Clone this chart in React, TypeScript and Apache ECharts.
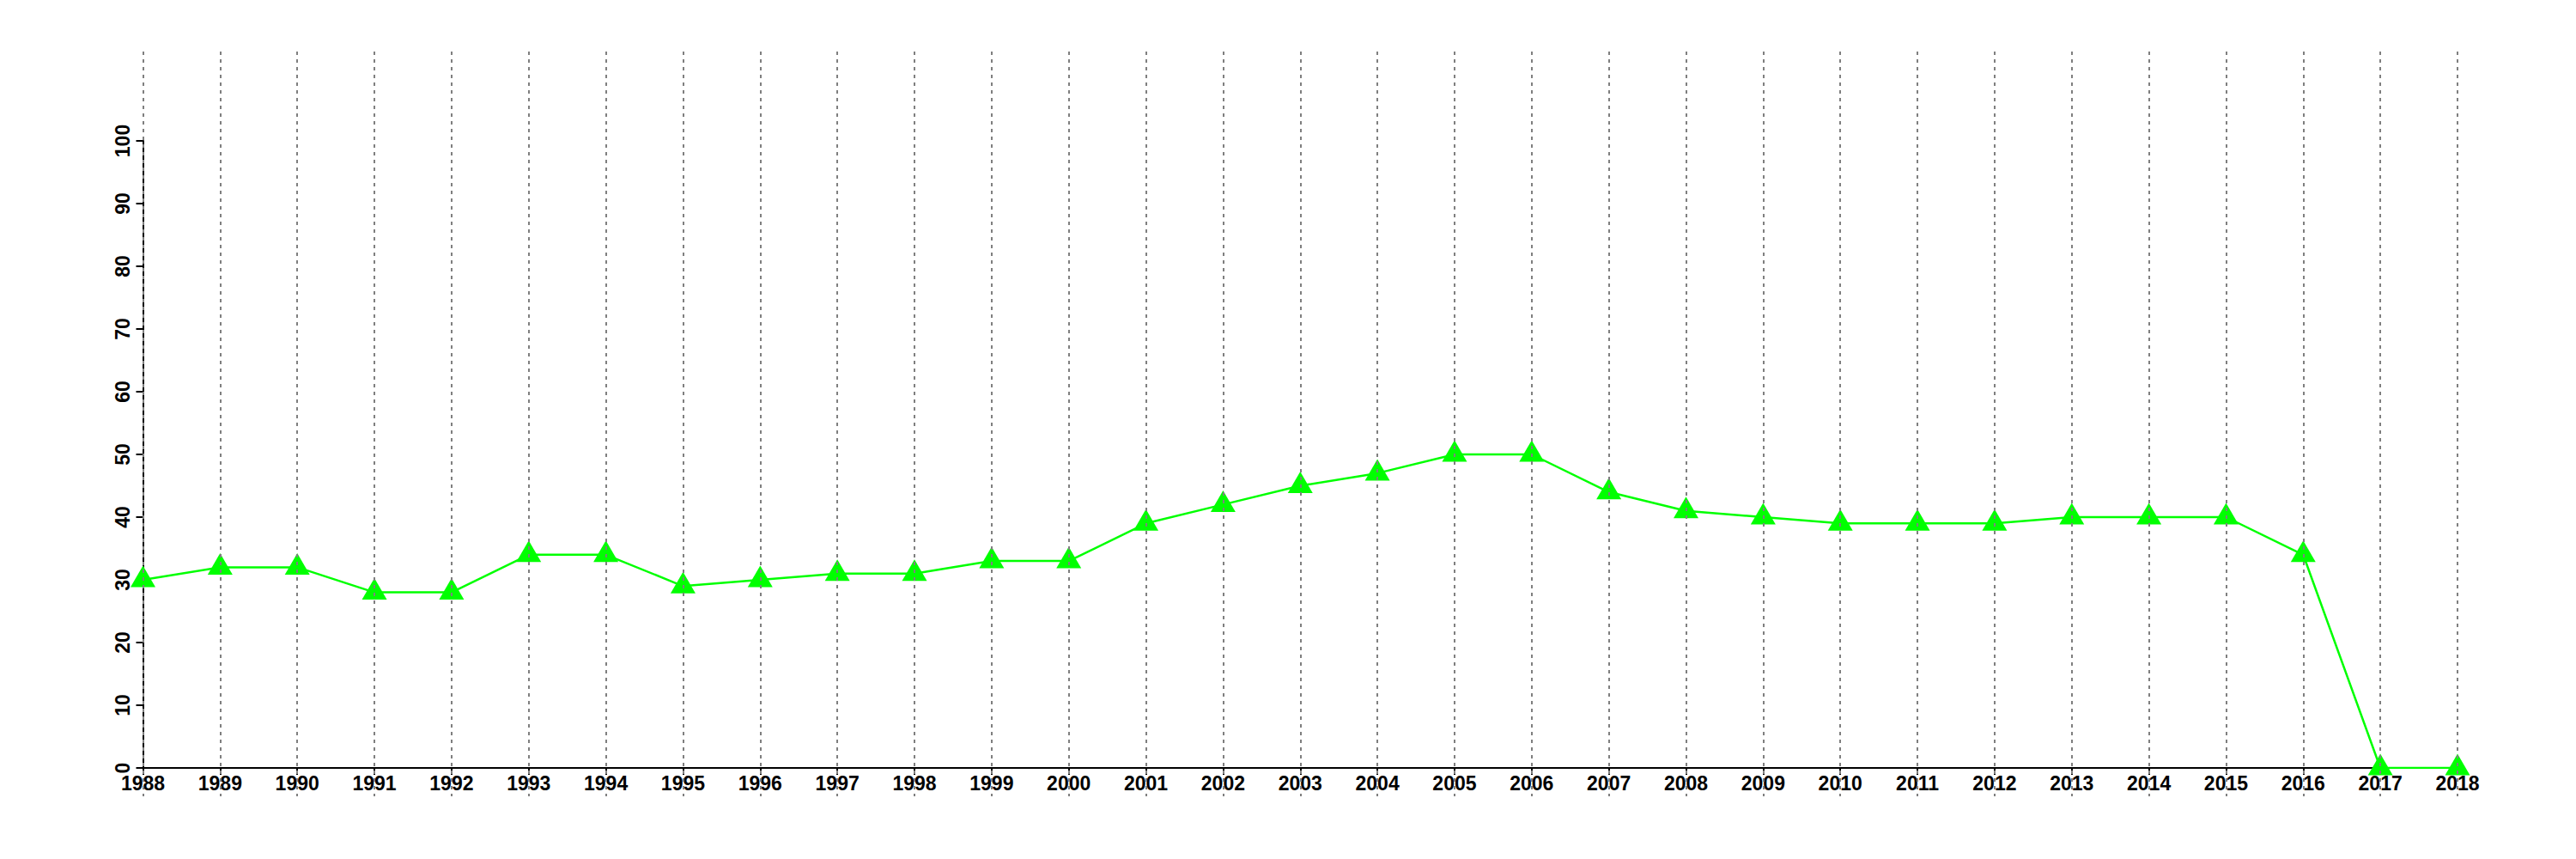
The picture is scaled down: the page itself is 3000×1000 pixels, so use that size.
import React, { useEffect, useRef } from "react";
import * as echarts from "echarts";

const years: string[] = [
  "1988", "1989", "1990", "1991", "1992", "1993", "1994", "1995", "1996", "1997",
  "1998", "1999", "2000", "2001", "2002", "2003", "2004", "2005", "2006", "2007",
  "2008", "2009", "2010", "2011", "2012", "2013", "2014", "2015", "2016", "2017", "2018",
];
const values: number[] = [
  30, 32, 32, 28, 28, 34, 34, 29, 30, 31,
  31, 33, 33, 39, 42, 45, 47, 50, 50, 44,
  41, 40, 39, 39, 39, 40, 40, 40, 34, 0, 0,
];
const yMin = 0;
const yMax = 100;
const yInterval = 10;

export default function App() {
  const ref = useRef<HTMLDivElement>(null);
  useEffect(() => {
    if (!ref.current) return;
    const chart = echarts.init(ref.current, null, { renderer: "svg" });
    const labelFont = {
      fontFamily: "Liberation Sans, Arial, sans-serif",
      fontWeight: "bold" as const,
      fontSize: 23,
      color: "#000",
    };
    chart.setOption({
      animation: false,
      backgroundColor: "#fff",
      grid: [
        { left: 166.5, right: 138, top: 164, bottom: 106 },
        { left: 166.5, right: 138, top: 60, bottom: 73 },
      ],
      xAxis: [
        {
          type: "category",
          gridIndex: 0,
          data: years,
          boundaryGap: false,
          axisLine: { show: true, lineStyle: { color: "#000", width: 2 } },
          axisTick: { show: true, length: 8, interval: 0, lineStyle: { color: "#000", width: 2 } },
          axisLabel: { ...labelFont, interval: 0, margin: 6 },
          splitLine: { show: false },
        },
        {
          type: "category",
          gridIndex: 1,
          data: years,
          boundaryGap: false,
          z: 10,
          axisLine: { show: false },
          axisTick: { show: false },
          axisLabel: { show: false },
          splitLine: {
            show: true,
            interval: 0,
            lineStyle: { color: "#7f7f7f", width: 2, type: [4, 5] },
          },
        },
      ],
      yAxis: [
        {
          type: "value",
          gridIndex: 0,
          min: yMin,
          max: yMax,
          interval: yInterval,
          axisLine: { show: true, lineStyle: { color: "#000", width: 2 } },
          axisTick: { show: true, length: 8, lineStyle: { color: "#000", width: 2 } },
          axisLabel: { ...labelFont, rotate: 90, margin: 12 },
          splitLine: { show: false },
        },
        {
          type: "value",
          gridIndex: 1,
          show: false,
          min: 0,
          max: 1,
          splitLine: { show: false },
        },
      ],
      series: [
        {
          type: "line",
          xAxisIndex: 0,
          yAxisIndex: 0,
          data: values,
          z: 2,
          lineStyle: { color: "#00ff00", width: 2.5 },
          itemStyle: { color: "#00ff00" },
          symbol: "triangle",
          symbolSize: [29, 25],
          symbolOffset: [0, -4],
          showAllSymbol: true,
        },
      ],
    });
    return () => chart.dispose();
  }, []);
  return (
    <div
      ref={ref}
      style={{ position: "absolute", left: 0, top: 0, width: 3000, height: 1000 }}
    />
  );
}
